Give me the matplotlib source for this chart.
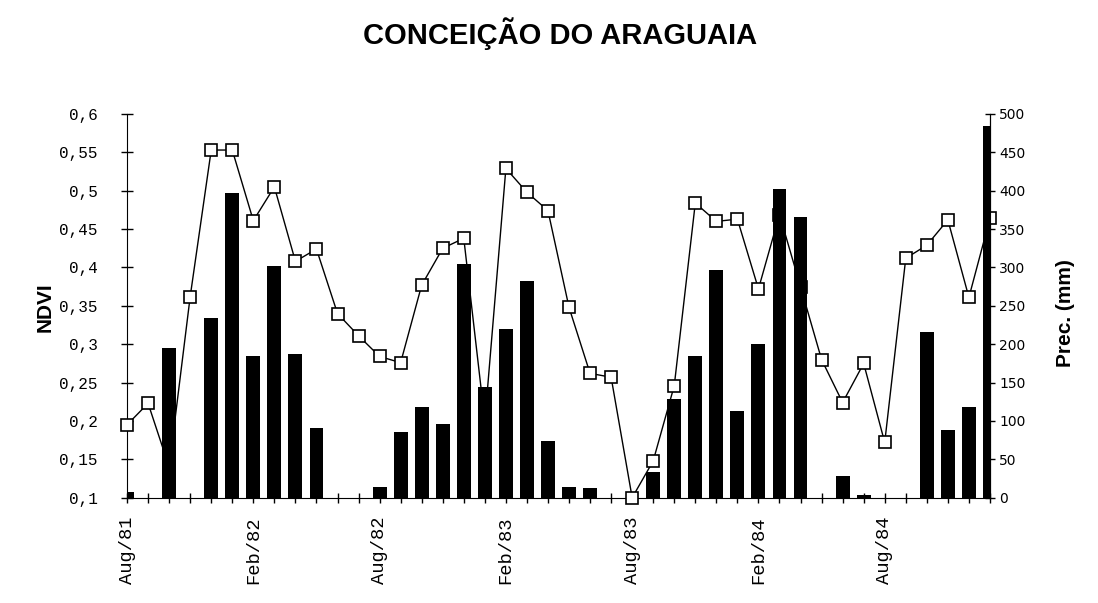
"""
NDVI and monthly precipitation, Conceicao do Araguaia, Aug/81 - Jan/85
"""
import matplotlib
matplotlib.use("Agg")
import matplotlib.pyplot as plt
from matplotlib.ticker import FuncFormatter, MultipleLocator

TITLE: str = "CONCEIÇÃO DO ARAGUAIA"
MONO: str = "Liberation Mono"

# one value per month, Aug/81 .. Jan/85
ndvi = [0.195, 0.223, 0.14, 0.362, 0.553, 0.553, 0.461, 0.505, 0.408, 0.424,
        0.340, 0.311, 0.284, 0.276, 0.377, 0.425, 0.438, 0.20, 0.529, 0.498,
        0.474, 0.348, 0.262, 0.257, 0.10, 0.148, 0.246, 0.484, 0.460, 0.463,
        0.372, 0.469, 0.375, 0.280, 0.224, 0.275, 0.172, 0.412, 0.429, 0.462,
        0.361, 0.464]
prec = [8, 0, 195, 0, 234, 397, 184, 302, 187, 91,
        0, 0, 14, 85, 118, 96, 304, 144, 220, 282,
        74, 14, 13, 0, 0, 33, 128, 184, 297, 113,
        200, 402, 366, 0, 28, 3, 0, 0, 216, 88,
        118, 484]
month_labels = ["Aug/81", "Feb/82", "Aug/82", "Feb/83", "Aug/83", "Feb/84", "Aug/84"]


def main() -> None:
    x = list(range(len(ndvi)))
    fig = plt.figure(figsize=(10.98, 6.03), dpi=100)
    fig.subplots_adjust(left=.1157, right=.9016, bottom=.1746, top=.811)
    ax = fig.add_subplot(111)
    ax2 = ax.twinx()  # drawn after ax, so the bars cover the line

    ax.plot(x, ndvi, color="black", lw=1, marker="s", ms=8,
            mfc="white", mec="black", mew=1.2, clip_on=False, zorder=3)
    ax2.bar(x, prec, width=.66, color="black")

    ax.set_xlim(0, len(ndvi) - 1)
    ax.set_ylim(.1, .6)
    ax2.set_ylim(0, 500)

    ax.set_xticks(x, minor=True)
    ax.set_xticks(x[::6], month_labels)
    ax.yaxis.set_major_locator(MultipleLocator(.05))
    ax.yaxis.set_major_formatter(FuncFormatter(lambda v, p: f"{v:g}".replace(".", ",")))
    ax2.yaxis.set_major_locator(MultipleLocator(50))

    ax.tick_params(axis="x", which="both", direction="inout", length=7, width=1)
    ax.tick_params(axis="x", which="major", pad=10, labelrotation=90)
    ax.tick_params(axis="y", direction="inout", length=8, width=1, pad=17)
    ax2.tick_params(axis="y", direction="inout", length=7, width=1, pad=3,
                    labelsize=10)
    for lab in ax.get_yticklabels():
        lab.set_fontfamily(MONO)
        lab.set_fontsize(11.5)
    for lab in ax.get_xticklabels():
        lab.set_fontfamily(MONO)
        lab.set_fontsize(13.5)

    for a in (ax, ax2):
        a.spines["top"].set_visible(False)
    ax2.spines["left"].set_visible(False)
    ax2.spines["bottom"].set_visible(False)

    fig.text(.041, .49, "NDVI", rotation=90, ha="center", va="center",
             fontsize=15, fontweight="bold", family="Liberation Sans")
    fig.text(.970, .48, "Prec. (mm)", rotation=90, ha="center", va="center",
             fontsize=15, fontweight="bold", family="Liberation Sans")
    fig.text(.51, .945, TITLE, ha="center", va="center", fontsize=21,
             fontweight="bold", family="Liberation Sans")

    fig.savefig("out.png", dpi=100)


if __name__ == "__main__":
    main()
